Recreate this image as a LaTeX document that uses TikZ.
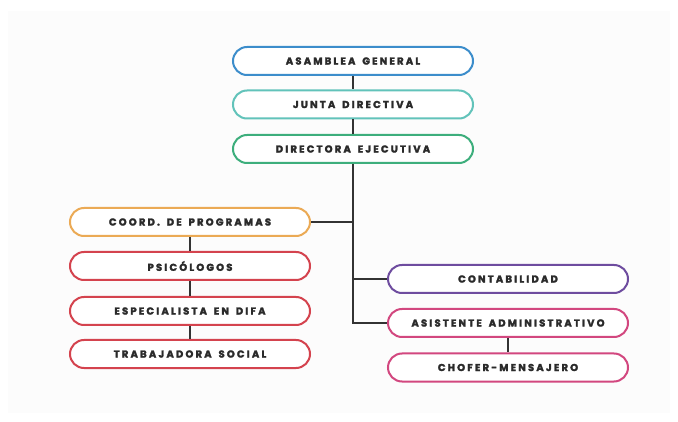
\documentclass[tikz,border=0pt]{standalone}
\usepackage{fontspec}
\newfontfamily\pop[LetterSpace=22,WordSpace=1.6,BoldFeatures={FakeBold=2.6}]{Poppins}
\begin{document}
\begin{tikzpicture}[x=1pt,y=-1pt,
  box/.style={draw=#1, line width=2pt, fill=white, rounded corners=14pt,
    minimum width=240pt, minimum height=28pt, inner sep=0pt,
    font=\pop\bfseries\fontsize{10}{12}\selectfont, text=txt},
  conn/.style={draw=lin, line width=2pt}]
\definecolor{txt}{HTML}{2A2A2A}
\definecolor{lin}{HTML}{333333}
\definecolor{cblue}{HTML}{3C8DCB}
\definecolor{cteal}{HTML}{62C3BA}
\definecolor{cgreen}{HTML}{3DAE7C}
\definecolor{corange}{HTML}{EBAA55}
\definecolor{cred}{HTML}{D4434E}
\definecolor{cpurple}{HTML}{6E4C9F}
\definecolor{cpink}{HTML}{D2477F}
\definecolor{bgg}{HTML}{FCFCFC}
\useasboundingbox (0,0) rectangle (678,422);
\fill[white] (0,0) rectangle (678,422);
\fill[bgg] (8,11) rectangle (670,413);
\node[box=cblue] (asam) at (353,61) {ASAMBLEA GENERAL};
\node[box=cteal] (junta) at (353,104.5) {JUNTA DIRECTIVA};
\node[box=cgreen] (dir) at (353,149) {DIRECTORA EJECUTIVA};
\node[box=corange] (coord) at (190,222) {COORD. DE PROGRAMAS};
\node[box=cred] (psic) at (190,266) {PSICÓLOGOS};
\node[box=cred] (esp) at (190,311) {ESPECIALISTA EN DIFA};
\node[box=cred] (trab) at (190,354) {TRABAJADORA SOCIAL};
\node[box=cpurple] (cont) at (508,279) {CONTABILIDAD};
\node[box=cpink] (asis) at (508,323) {ASISTENTE ADMINISTRATIVO};
\node[box=cpink] (chof) at (508,367.5) {CHOFER-MENSAJERO};
\draw[conn] (asam.south) -- (junta.north);
\draw[conn] (junta.south) -- (dir.north);
\draw[conn] (dir.south) |- (asis.west);
\draw[conn] (coord.east) -- (coord.east -| dir.south);
\draw[conn] (cont.west) -- (cont.west -| dir.south);
\draw[conn] (coord.south) -- (psic.north);
\draw[conn] (psic.south) -- (esp.north);
\draw[conn] (esp.south) -- (trab.north);
\draw[conn] (asis.south) -- (chof.north);
\end{tikzpicture}
\end{document}
